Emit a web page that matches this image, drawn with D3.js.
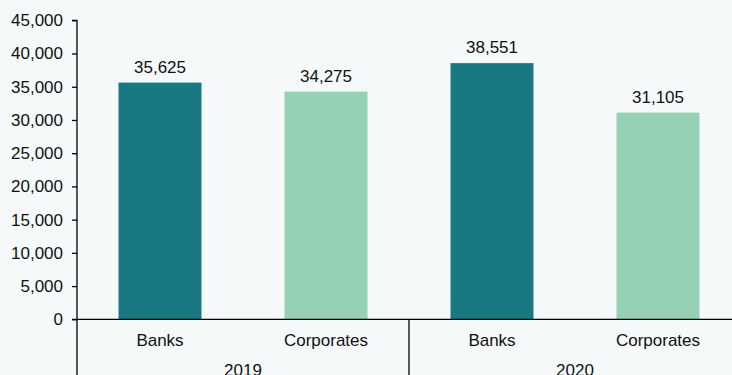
<!DOCTYPE html>
<html>
<head>
<meta charset="utf-8">
<script src="https://cdn.jsdelivr.net/npm/d3@7/dist/d3.min.js"></script>
<style>
  html, body { margin: 0; padding: 0; background: #f5f9fa; }
  svg { display: block; }
  text { font-family: "Liberation Sans", Arial, sans-serif; fill: #111; }
</style>
</head>
<body>
<svg id="chart" width="732" height="375"></svg>
<script>
// Years and sectors, outer and inner axis groupings
const years = ["2019", "2020"];
const sectors = ["Banks", "Corporates"];
// Values per bar, in order 2019 Banks, 2019 Corporates, 2020 Banks, 2020 Corporates
const values = [35625, 34275, 38551, 31105];
const yTicks = [0, 5000, 10000, 15000, 20000, 25000, 30000, 35000, 40000, 45000];
const colors = { Banks: "#1a7882", Corporates: "#96d1b5" };
const fontSize = "17px";

const rows = [];
years.forEach((yr, i) => sectors.forEach((s, j) => {
  rows.push({ year: yr, sector: s, key: yr + "|" + s, value: values[i * sectors.length + j] });
}));

const svg = d3.select("#chart");
const mLeft = 77, mRight = 741, mTop = 20.3, mBottom = 319.3;

const x = d3.scaleBand().domain(rows.map(d => d.key)).range([mLeft, mRight]).paddingInner(0.5).paddingOuter(0.25);
const xYear = d3.scaleBand().domain(years).range([mLeft, mRight]);
const y = d3.scaleLinear().domain([0, 45000]).range([mBottom, mTop]);

const fmt = d3.format(",");

// Y axis
const yAxis = svg.append("g")
  .attr("transform", `translate(${mLeft},0)`)
  .call(d3.axisLeft(y).tickValues(yTicks).tickFormat(fmt).tickSize(5).tickPadding(9));
yAxis.select(".domain").attr("stroke", "#000").attr("stroke-width", 1.3)
  .attr("d", `M-5,${mTop}H0V375`);
yAxis.selectAll(".tick line").attr("stroke", "#000").attr("stroke-width", 1.3);
yAxis.selectAll(".tick text").style("font-size", fontSize).attr("fill", "#111");

// Bars
svg.append("g").selectAll("rect").data(rows).join("rect")
  .attr("x", d => x(d.key))
  .attr("width", x.bandwidth())
  .attr("y", d => y(d.value))
  .attr("height", d => y(0) - y(d.value))
  .attr("fill", d => colors[d.sector]);

// Value labels
svg.append("g").selectAll("text").data(rows).join("text")
  .attr("x", d => x(d.key) + x.bandwidth() / 2)
  .attr("y", d => y(d.value) - 10)
  .attr("text-anchor", "middle")
  .style("font-size", fontSize)
  .text(d => fmt(d.value));

// Baseline
svg.append("line")
  .attr("x1", mLeft - 5).attr("x2", mRight)
  .attr("y1", y(0)).attr("y2", y(0))
  .attr("stroke", "#000").attr("stroke-width", 1.3);

// Inner category labels
svg.append("g").selectAll("text").data(rows).join("text")
  .attr("x", d => x(d.key) + x.bandwidth() / 2)
  .attr("y", 345.5)
  .attr("text-anchor", "middle")
  .style("font-size", fontSize)
  .text(d => d.sector);

// Year group dividers
svg.append("g").selectAll("line").data(years.slice(1)).join("line")
  .attr("x1", d => xYear(d)).attr("x2", d => xYear(d))
  .attr("y1", y(0)).attr("y2", 375)
  .attr("stroke", "#000").attr("stroke-width", 1.3);

// Year labels
svg.append("g").selectAll("text").data(years).join("text")
  .attr("x", d => xYear(d) + xYear.bandwidth() / 2)
  .attr("y", 375.5)
  .attr("text-anchor", "middle")
  .style("font-size", fontSize)
  .text(d => d);
</script>
</body>
</html>
